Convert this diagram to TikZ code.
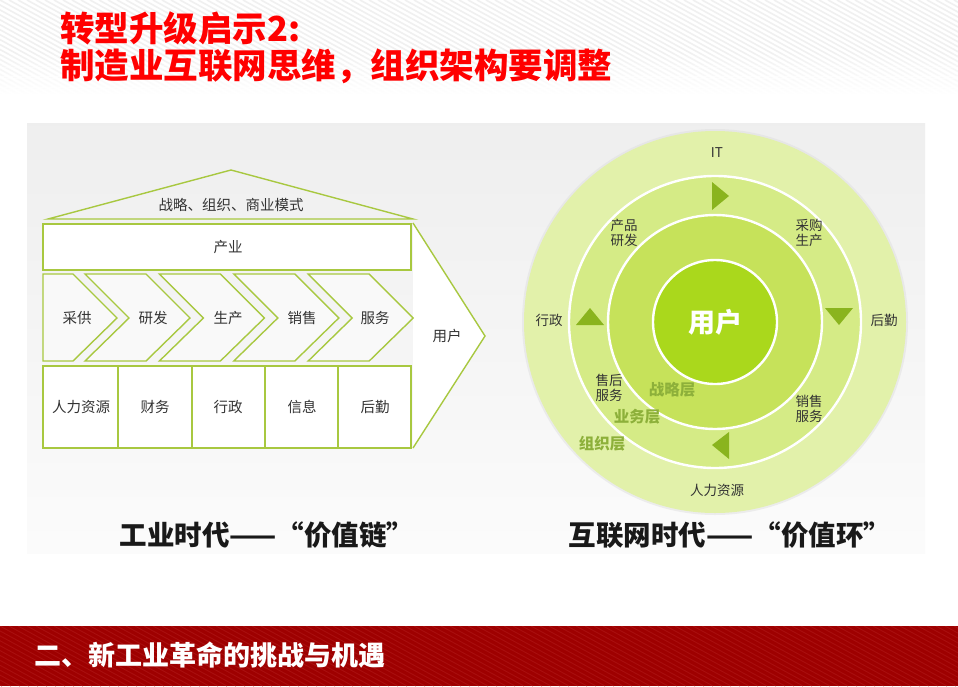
\documentclass[tikz,border=0pt]{standalone}
\usepackage{fontspec}
\setmainfont{Noto Sans CJK SC}
\newfontfamily\cjk{Noto Sans CJK SC}
\definecolor{lg}{HTML}{A8C840}
\definecolor{tri}{HTML}{8AB41E}
\definecolor{ringA}{HTML}{E2F1AA}
\definecolor{ringB}{HTML}{D5EB86}
\definecolor{ringC}{HTML}{C6E25A}
\definecolor{core}{HTML}{AAD81C}
\definecolor{layer}{HTML}{8DB03A}
\definecolor{footred}{HTML}{9E0000}
\definecolor{footstripe}{HTML}{A90F0F}
\definecolor{txt}{HTML}{333333}
\tikzset{
  frame/.style={draw=lg, line width=1.4pt},
  chev/.style={frame, fill=gray!5, line join=miter},
  boxlbl/.style={font=\cjk\fontsize{14.5}{16}\selectfont, text=txt, inner sep=0pt},
  ringlbl/.style={font=\cjk\fontsize{13.5}{15}\selectfont, text=txt, inner sep=0pt, align=center},
  layerlbl/.style={font=\cjk\bfseries\fontsize{15.5}{17}\selectfont, text=layer, inner sep=0pt},
  caption/.style={font=\cjk\bfseries\fontsize{27.5}{29}\selectfont, text=black!90, inner sep=0pt},
  arrowtri/.style={fill=tri},
  sep/.style={draw=white, line width=2.4pt}
}
\begin{document}
\begin{tikzpicture}[x=1pt,y=-1pt]
\useasboundingbox (0,0) rectangle (958,686);
\fill[white] (0,0) rectangle (958,686);
% header stripes, fading downwards
\begin{scope}
  \clip (0,0) rectangle (958,96);
  \foreach \i in {-30,...,110} {
    \draw[black!6, line width=1.6pt] (\i*9,0) -- ++(200,110);
  }
\end{scope}
\foreach \j in {0,...,19} {
  \pgfmathsetmacro{\op}{(\j+1)/20}
  \fill[white, opacity=\op] (0,52+\j*2.2) rectangle (958,54.6+\j*2.2);
}
\fill[white] (0,94) rectangle (958,110);
% title
\node[anchor=west, inner sep=0pt, font=\cjk\bfseries\fontsize{34.5}{36}\selectfont, text=red] (t1) at (60,28) {转型升级启示2:};
\node[anchor=west, inner sep=0pt, font=\cjk\bfseries\fontsize{34.5}{36}\selectfont, text=red] (t2) at (60,66) {制造业互联网思维，组织架构要调整};
% panel
\shade[top color=gray!13, bottom color=gray!3] (27,123) rectangle (925,553);
% ---------- left: value chain ----------
\draw[frame] (48,219) -- (231,170) -- (413,219) -- cycle;
\node[boxlbl] (roof) at (231,205) {战略、组织、商业模式};
\draw[frame, fill=white] (43,224) rectangle (411,270);
\node[boxlbl] (ind) at (228,247) {产业};
% user arrow
\fill[white] (413,223) -- (485,336) -- (413,448) -- cycle;
\draw[frame, line join=miter] (413,223) -- (485,336) -- (413,448);
\node[boxlbl] (user1) at (447,336) {用户};
% chevrons
\draw[chev] (43,274) -- (73,274) -- (117,318) -- (73,361) -- (43,361) -- cycle;
\foreach \k in {1,...,4} {
  \pgfmathsetmacro{\xo}{85+74.4*(\k-1)}
  \draw[chev] (\xo,274) -- (\xo+61,274) -- (\xo+105,318) -- (\xo+61,361) -- (\xo,361) -- (\xo+44,318) -- cycle;
}
\node[boxlbl] (c1) at (77,318) {采供};
\node[boxlbl] (c2) at (153,318) {研发};
\node[boxlbl] (c3) at (228,318) {生产};
\node[boxlbl] (c4) at (302,318) {销售};
\node[boxlbl] (c5) at (375,318) {服务};
% support boxes
\draw[frame, fill=white] (43,366) rectangle (411,448);
\foreach \x in {118,192,265,338} { \draw[frame] (\x,366) -- (\x,448); }
\node[boxlbl] (s1) at (81,407) {人力资源};
\node[boxlbl] (s2) at (155,407) {财务};
\node[boxlbl] (s3) at (228,407) {行政};
\node[boxlbl] (s4) at (302,407) {信息};
\node[boxlbl] (s5) at (375,407) {后勤};
% caption left
\node[caption] (capL) at (267,535) {工业时代——“价值链”};
% ---------- right: value ring ----------
\coordinate (O) at (715,322);
\fill[gray!25, opacity=0.5] (O) circle[radius=193];
\fill[ringA] (O) circle[radius=191];
\fill[ringB] (O) circle[radius=146];
\draw[sep] (O) circle[radius=146];
\fill[ringC] (O) circle[radius=107];
\draw[sep] (O) circle[radius=107];
\fill[core] (O) circle[radius=62];
\draw[sep] (O) circle[radius=62];
% triangles
\fill[arrowtri] (712,182) -- (712,210) -- (729,196) -- cycle;
\fill[arrowtri] (825,308) -- (853,308) -- (839,325) -- cycle;
\fill[arrowtri] (729,432) -- (729,459) -- (712,445) -- cycle;
\fill[arrowtri] (576,325) -- (604,325) -- (590,308) -- cycle;
% labels
\node[font=\cjk\bfseries\fontsize{27}{29}\selectfont, text=white, inner sep=0pt] (core) at (O) {用户};
\node[ringlbl] (it) at (717,153) {IT};
\node[ringlbl] (hq) at (884,320) {后勤};
\node[ringlbl] (hr) at (717,490) {人力资源};
\node[ringlbl] (xz) at (549,320) {行政};
\node[ringlbl] (rd) at (624,233) {产品\\研发};
\node[ringlbl] (cg) at (809,233) {采购\\生产};
\node[ringlbl] (sh) at (609,388) {售后\\服务};
\node[ringlbl] (xs) at (809,409) {销售\\服务};
\node[layerlbl] (l1) at (672,390) {战略层};
\node[layerlbl] (l2) at (637,417) {业务层};
\node[layerlbl] (l3) at (602,444) {组织层};
% caption right
\node[caption] (capR) at (730,535) {互联网时代——“价值环”};
% ---------- footer ----------
\begin{scope}
  \clip (0,626) rectangle (958,686);
  \fill[footred] (0,626) rectangle (958,686);
  \foreach \i in {-12,...,110} {
    \draw[footstripe, line width=0.9pt] (\i*9,626) -- ++(110,60);
  }
\end{scope}
\node[anchor=west, inner sep=0pt, font=\cjk\bfseries\fontsize{27}{30}\selectfont, text=white] (foot) at (34,655) {二、新工业革命的挑战与机遇};
\end{tikzpicture}
\end{document}
